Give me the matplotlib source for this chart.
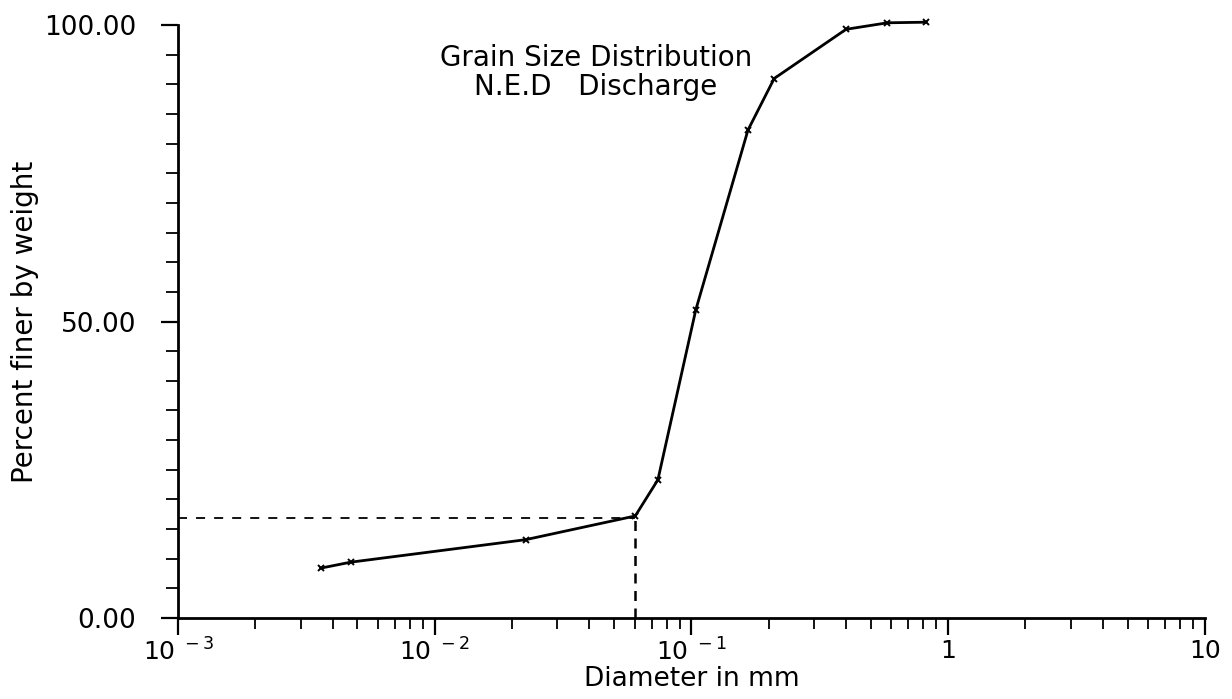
import matplotlib
matplotlib.use("Agg")
import matplotlib.pyplot as plt
from matplotlib.ticker import FixedLocator, LogLocator, NullFormatter, MultipleLocator

diameter_mm = [0.0036, 0.0047, 0.0226, 0.0604, 0.074, 0.104, 0.166, 0.21, 0.40, 0.58, 0.82]
percent_finer = [8.4, 9.4, 13.2, 17.2, 23.3, 52.0, 82.3, 91.0, 99.3, 100.4, 100.5]

# marker lines for the fine fraction
mark_d = 0.0604
mark_p = 16.9

x_ticks = [1e-3, 1e-2, 1e-1, 1, 10]
x_tick_labels = [r"$10^{\ -3}$", r"$10^{\ -2}$", r"$10^{\ -1}$", "1", "10"]
y_ticks = [0, 50, 100]
y_tick_labels = ["0.00", "50.00", "100.00"]

plt.rcParams["font.family"] = ["DejaVu Sans"]
plt.rcParams["mathtext.fontset"] = "dejavusans"

fig = plt.figure(figsize=(12.32, 6.99), dpi=100)
ax = fig.add_axes([0.1445, 0.116, 0.8335, 0.848])

ax.plot(diameter_mm, percent_finer, color="black", linewidth=2.0,
        marker="x", markersize=5, markeredgewidth=1.4, clip_on=False)

ax.plot([1e-3, mark_d], [mark_p, mark_p], color="black", linewidth=1.3,
        linestyle=(0, (5, 5)))
ax.plot([mark_d, mark_d], [0, mark_p], color="black", linewidth=1.8,
        linestyle=(0, (4, 3)))

ax.set_xscale("log")
ax.set_xlim(1e-3, 10)
ax.set_ylim(0, 100)

ax.xaxis.set_major_locator(FixedLocator(x_ticks))
ax.set_xticklabels(x_tick_labels)
ax.xaxis.set_minor_locator(LogLocator(base=10, subs=range(2, 10)))
ax.xaxis.set_minor_formatter(NullFormatter())

ax.set_yticks(y_ticks)
ax.set_yticklabels(y_tick_labels)
ax.yaxis.set_minor_locator(MultipleLocator(5))

for side in ("top", "right"):
    ax.spines[side].set_visible(False)
for side in ("left", "bottom"):
    ax.spines[side].set_linewidth(2.0)

ax.tick_params(axis="x", which="major", direction="out", length=12, width=1.6,
               labelsize=18, pad=3)
ax.tick_params(axis="x", which="minor", direction="out", length=8, width=1.3)
ax.tick_params(axis="y", which="major", direction="out", length=12, width=1.6,
               labelsize=19, pad=18)
ax.tick_params(axis="y", which="minor", direction="out", length=9, width=1.3)

ax.set_xlabel("Diameter in mm", fontsize=19, labelpad=0)
ax.set_ylabel("Percent finer by weight", fontsize=20, labelpad=4)

ax.text(0.0425, 92.0, "Grain Size Distribution\nN.E.D   Discharge", fontsize=20,
        ha="center", va="center", linespacing=1.05)

fig.savefig("out.png", dpi=100)
